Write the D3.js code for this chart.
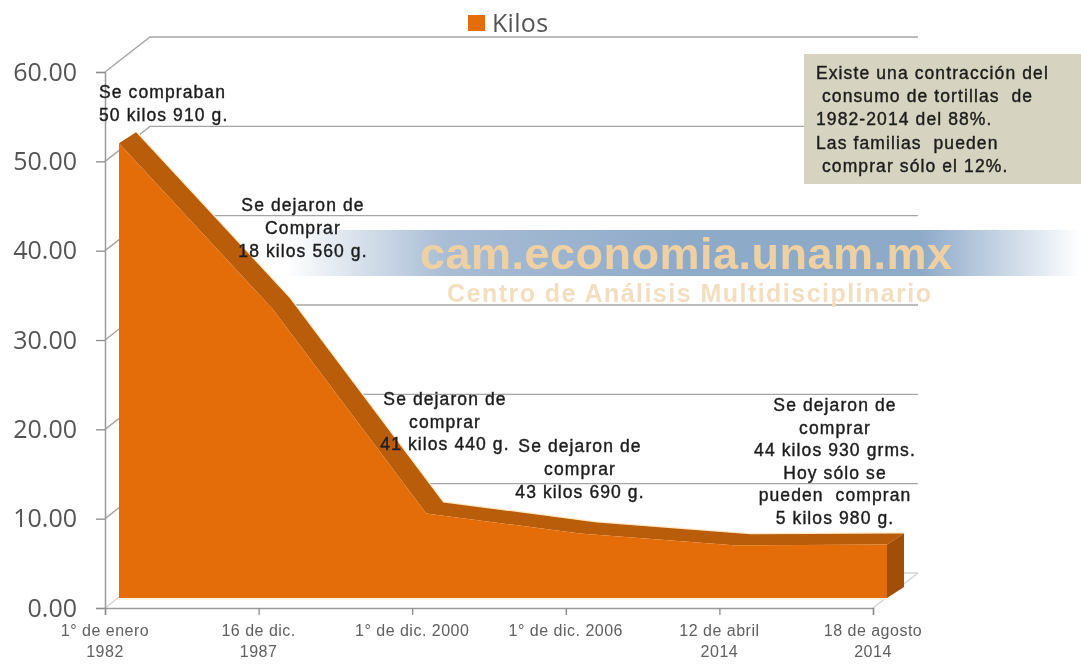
<!DOCTYPE html>
<html>
<head>
<meta charset="utf-8">
<script src="https://cdn.jsdelivr.net/npm/d3@7"></script>
<style>
  body { margin: 0; background: white; }
  svg { display: block; filter: blur(0.45px); }
</style>
</head>
<body>
<div id="chart"></div>
<script>
let w = 1081, h = 665;

// data
let fechas = ["1° de enero", "16 de dic.", "1° de dic. 2000", "1° de dic. 2006", "12 de abril", "18 de agosto"];
let fechas2 = ["1982", "1987", "", "", "2014", "2014"];
let kilos = [50.91, 32.35, 9.47, 7.22, 5.9, 5.98];
let yTicks = [0, 10, 20, 30, 40, 50, 60];

let nota1 = ["Se compraban", "50 kilos 910 g."];
let nota2 = ["Se dejaron de", "Comprar", "18 kilos 560 g."];
let nota3 = ["Se dejaron de", "comprar", "41 kilos 440 g."];
let nota4 = ["Se dejaron de", "comprar", "43 kilos 690 g."];
let nota5 = ["Se dejaron de", "comprar", "44 kilos 930 grms.", "Hoy sólo se", "pueden  compran", "5 kilos 980 g."];
let recuadro = ["Existe una contracción del", " consumo de tortillas  de", "1982-2014 del 88%.", "Las familias  pueden", " comprar sólo el 12%."];

let svg = d3.select("#chart").append("svg")
    .attr("width", w)
    .attr("height", h)
    .attr("viewBox", "0 0 " + w + " " + h);

let xScale = d3.scalePoint().domain(fechas).range([105, 873]);
let yScale = d3.scaleLinear().domain([0, 60]).range([608, 72]);

// 3d offsets: back wall, front of the area, back of the area
let wallX = 45, wallY = -35;
let frontX = 14, frontY = -10;
let backX = 31, backY = -21;

let naranja = "#e46d0a", banda = "#b95d0b", lado = "#a14f08", grid = "#a6a6a6";

let defs = svg.append("defs");
let grad = defs.append("linearGradient").attr("id", "franja");
grad.append("stop").attr("offset", "0%").attr("stop-color", "#a9bdd5").attr("stop-opacity", 0);
grad.append("stop").attr("offset", "20%").attr("stop-color", "#a9bdd5").attr("stop-opacity", 1);
grad.append("stop").attr("offset", "50%").attr("stop-color", "#8eaac9").attr("stop-opacity", 1);
grad.append("stop").attr("offset", "80%").attr("stop-color", "#8eaac9").attr("stop-opacity", 1);
grad.append("stop").attr("offset", "100%").attr("stop-color", "#8eaac9").attr("stop-opacity", 0);

// back wall lines
let wall = svg.append("g");
wall.selectAll(".gridline").data(yTicks).enter().append("polyline")
    .attr("class", "gridline")
    .attr("fill", "none")
    .attr("stroke", function(d){ return d == 0 ? "#d4d4d4" : grid; })
    .attr("stroke-width", 1.4)
    .attr("points", function(d){
      let y = yScale(d);
      return [[105, y], [105 + wallX, y + wallY], [873 + wallX, y + wallY]].join(" ");
    });

// floor line on the right side
wall.append("line")
    .attr("x1", xScale(fechas[5])).attr("y1", yScale(0))
    .attr("x2", xScale(fechas[5]) + wallX).attr("y2", yScale(0) + wallY)
    .attr("stroke", "#d4d4d4").attr("stroke-width", 1.4);

// banner behind the area
svg.append("rect")
    .attr("x", 285).attr("y", 230).attr("width", 796).attr("height", 46)
    .attr("fill", "url(#franja)");

// area: top band, right side and front
let pts = fechas.map(function(d, i){ return { x: xScale(d), y: yScale(kilos[i]) }; });
let last = pts[pts.length - 1];

let frontArea = d3.area()
    .x(function(d){ return d.x + frontX; })
    .y0(yScale(0) + frontY)
    .y1(function(d){ return d.y + frontY; });

let backLine = d3.line()
    .x(function(d){ return d.x + backX; })
    .y(function(d){ return d.y + backY; });

let bandPoints = pts.map(function(d){ return [d.x + frontX, d.y + frontY]; })
    .concat(pts.slice().reverse().map(function(d){ return [d.x + backX, d.y + backY]; }));

// cream glow on the upper edge
svg.append("path")
    .datum(pts)
    .attr("d", backLine)
    .attr("fill", "none")
    .attr("stroke", "#ffe9c4")
    .attr("stroke-width", 2.5);

svg.append("polygon")
    .attr("points", bandPoints.join(" "))
    .attr("fill", banda);

svg.append("polygon")
    .attr("points", [
      [last.x + frontX, last.y + frontY],
      [last.x + backX, last.y + backY],
      [last.x + backX, yScale(0) + backY],
      [last.x + frontX, yScale(0) + frontY]
    ].join(" "))
    .attr("fill", lado);

svg.append("path")
    .datum(pts)
    .attr("d", frontArea)
    .attr("fill", naranja);

// pale edge under the area
svg.append("line")
    .attr("x1", xScale(fechas[0]) + frontX).attr("y1", yScale(0) + frontY + 1)
    .attr("x2", last.x + frontX).attr("y2", yScale(0) + frontY + 1)
    .attr("stroke", "#fff1d6").attr("stroke-width", 1.5);

// axes
let yAxis = d3.axisLeft(yScale).tickValues(yTicks).tickFormat(d3.format(".2f")).tickSize(9).tickPadding(19);
let yAxisGroup = svg.append("g").attr("transform", "translate(105,0)").call(yAxis);
yAxisGroup.selectAll("text")
    .attr("font-family", "'Open Sans', sans-serif")
    .attr("font-size", 25)
    .attr("fill", "#555555");
yAxisGroup.selectAll("line").attr("stroke", "#8c8c8c").attr("stroke-width", 1.3);
yAxisGroup.select(".domain").attr("stroke", "#9a9a9a").attr("stroke-width", 1.5);

let xAxis = d3.axisBottom(xScale).tickSize(7).tickFormat("");
let xAxisGroup = svg.append("g").attr("transform", "translate(0,608)").call(xAxis);
xAxisGroup.selectAll("line").attr("stroke", "#8c8c8c").attr("stroke-width", 1.3);
xAxisGroup.select(".domain").attr("stroke", "#9a9a9a").attr("stroke-width", 1.5);

let xLabels = svg.append("g").attr("font-family", "'Liberation Sans', Arial, sans-serif")
    .attr("font-size", 16)
    .attr("letter-spacing", 0.5)
    .attr("fill", "#606060")
    .attr("text-anchor", "middle");
xLabels.selectAll(".l1").data(fechas).enter().append("text")
    .attr("class", "l1")
    .attr("x", function(d){ return xScale(d); })
    .attr("y", 636)
    .text(function(d){ return d; });
xLabels.selectAll(".l2").data(fechas2).enter().append("text")
    .attr("class", "l2")
    .attr("x", function(d, i){ return xScale(fechas[i]); })
    .attr("y", 657)
    .text(function(d){ return d; });

// legend
svg.append("rect")
    .attr("x", 468).attr("y", 15).attr("width", 17).attr("height", 16)
    .attr("fill", naranja);
svg.append("text")
    .attr("x", 492).attr("y", 32)
    .attr("font-family", "'Open Sans', sans-serif")
    .attr("font-size", 25)
    .attr("letter-spacing", 0.3)
    .attr("fill", "#555555")
    .text("Kilos");

// watermark
svg.append("text")
    .attr("x", 420).attr("y", 269)
    .attr("textLength", 532)
    .attr("font-family", "'Liberation Sans', Arial, sans-serif")
    .attr("font-weight", "bold")
    .attr("font-size", 45)
    .attr("fill", "#efd0a2")
    .text("cam.economia.unam.mx");
svg.append("text")
    .attr("x", 447).attr("y", 302)
    .attr("textLength", 484)
    .attr("font-family", "'Liberation Sans', Arial, sans-serif")
    .attr("font-weight", "bold")
    .attr("font-size", 25)
    .attr("fill", "#f3dfc0")
    .text("Centro de Análisis Multidisciplinario");

// note box
svg.append("rect")
    .attr("x", 804).attr("y", 54).attr("width", 277).attr("height", 130)
    .attr("fill", "#d6d3c0");

function writeLines(lines, x, y, lineH, anchor){
  svg.append("g").selectAll("text").data(lines).enter().append("text")
      .attr("x", x)
      .attr("y", function(d, i){ return y + i * lineH; })
      .attr("text-anchor", anchor)
      .attr("xml:space", "preserve")
      .attr("font-family", "'Liberation Sans', Arial, sans-serif")
      .attr("font-size", 17.5)
      .attr("letter-spacing", 1.1)
      .attr("fill", "#1c1c1c")
      .attr("stroke", "#1c1c1c")
      .attr("stroke-width", 0.4)
      .text(function(d){ return d; });
}

writeLines(nota1, 99, 98, 22.5, "start");
writeLines(nota2, 303, 211, 23, "middle");
writeLines(nota3, 445, 405, 22.5, "middle");
writeLines(nota4, 580, 452, 23, "middle");
writeLines(nota5, 835, 411, 22.6, "middle");
writeLines(recuadro, 816, 79, 23.2, "start");
</script>
</body>
</html>
